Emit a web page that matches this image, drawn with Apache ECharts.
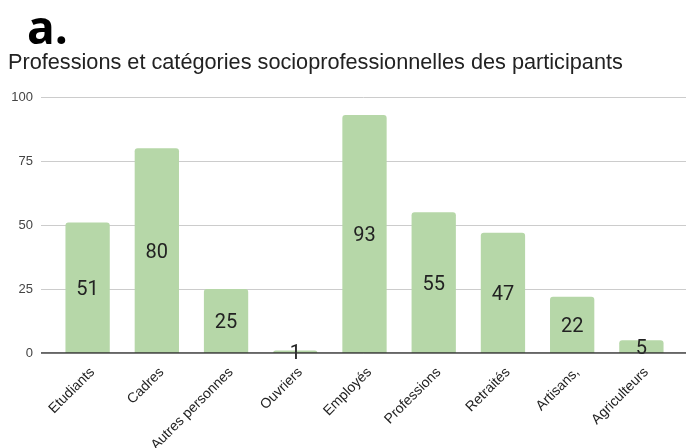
<!DOCTYPE html>
<html>
<head>
<meta charset="utf-8">
<script src="https://cdn.jsdelivr.net/npm/echarts@6/dist/echarts.min.js"></script>
<style>
  html, body { margin: 0; padding: 0; background: #fff; }
  #chart { width: 688px; height: 448px; }
</style>
</head>
<body>
<div id="chart"></div>
<script>
const categories = ['Etudiants', 'Cadres', 'Autres personnes', 'Ouvriers', 'Employés', 'Professions', 'Retraités', 'Artisans,', 'Agriculteurs'];
const participants = [51, 80, 25, 1, 93, 55, 47, 22, 5];
const yTicks = [0, 25, 50, 75, 100];

const chart = echarts.init(document.getElementById('chart'), null, { renderer: 'canvas' });

const yMin = yTicks[0];
const yMax = yTicks[yTicks.length - 1];
const yStep = yTicks[1] - yTicks[0];
const textFont = '"Liberation Sans", Arial, sans-serif';

chart.setOption({
  animation: false,
  backgroundColor: '#ffffff',
  title: [
    {
      text: 'a.',
      left: 27, top: 8, padding: 0,
      textStyle: { fontFamily: 'Open Sans', fontWeight: 'bold', fontSize: 46, color: '#000' }
    },
    {
      text: 'Professions et catégories socioprofessionnelles des participants',
      left: 8, top: 52, padding: 0,
      textStyle: { fontFamily: textFont, fontWeight: 'normal', fontSize: 21.7, color: '#222' }
    }
  ],
  grid: [
    // wide grid: gridlines and value labels
    { left: 41, right: 2, top: 97, bottom: 95, outerBoundsMode: 'none' },
    // inner grid: the bars and category labels
    { left: 53, right: 12, top: 97, bottom: 95, outerBoundsMode: 'none' }
  ],
  xAxis: [
    { gridIndex: 0, type: 'value', show: false, min: 0, max: 1 },
    {
      gridIndex: 1,
      type: 'category',
      data: categories,
      axisLine: { show: false },
      axisTick: { show: false },
      axisLabel: {
        rotate: 45,
        interval: 0,
        margin: 12,
        verticalAlign: 'top',
        fontFamily: textFont,
        fontSize: 14,
        color: '#222'
      }
    }
  ],
  yAxis: [
    {
      gridIndex: 0,
      type: 'value',
      min: yMin, max: yMax, interval: yStep,
      axisLine: { show: false },
      axisTick: { show: false },
      axisLabel: {
        margin: 8,
        fontFamily: textFont,
        fontSize: 13,
        color: '#444'
      },
      splitLine: { lineStyle: { color: '#cccccc', width: 1 } }
    },
    {
      gridIndex: 1,
      type: 'value',
      min: yMin, max: yMax, interval: yStep,
      show: false
    }
  ],
  series: [
    {
      type: 'bar',
      xAxisIndex: 1,
      yAxisIndex: 1,
      data: participants,
      barWidth: '64%',
      itemStyle: { color: '#b6d7a8', borderRadius: [3, 3, 0, 0] },
      label: {
        show: true,
        position: 'inside',
        offset: [0, 2],
        fontFamily: 'Roboto, Arial, sans-serif',
        fontSize: 20,
        color: '#222'
      },
      z: 2
    },
    {
      // baseline drawn over the bars
      type: 'line',
      xAxisIndex: 0,
      yAxisIndex: 0,
      data: [[0, 0], [1, 0]],
      symbol: 'none',
      lineStyle: { color: '#333', width: 1.5 },
      silent: true,
      z: 3
    }
  ]
});
</script>
</body>
</html>
